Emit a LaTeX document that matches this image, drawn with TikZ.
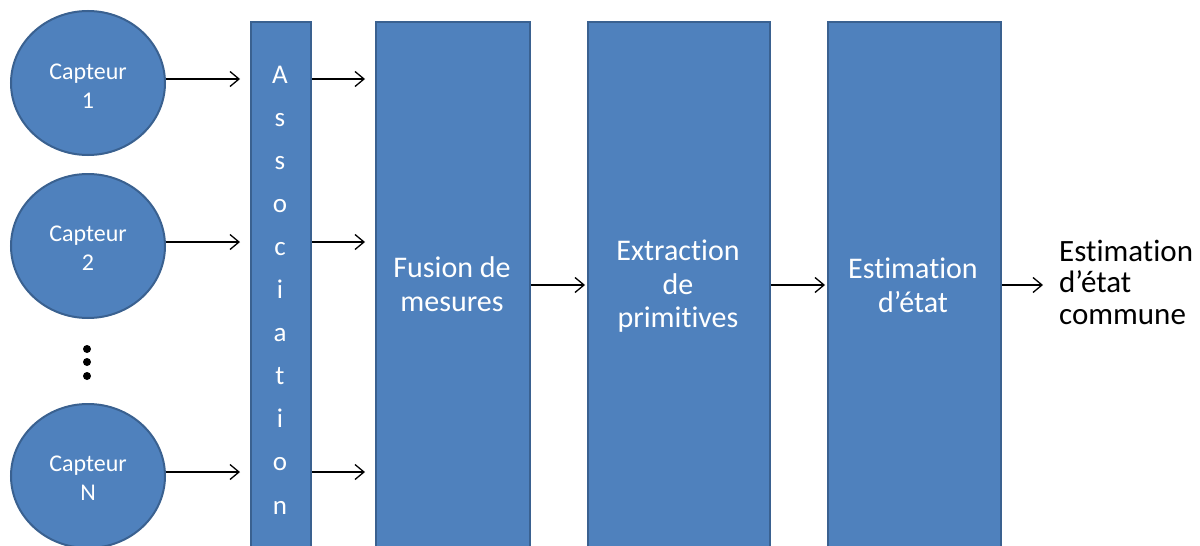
\documentclass[tikz,border=0pt]{standalone}
\usepackage{fontspec}
\setmainfont[Ligatures=NoCommon]{Carlito}
\usetikzlibrary{arrows.meta,shapes.geometric}
\definecolor{boxfill}{HTML}{4F81BD}
\definecolor{boxline}{HTML}{3A6190}
\begin{document}
\begin{tikzpicture}[x=1pt,y=-1pt,
  blk/.style={draw=boxline, line width=2pt, fill=boxfill, rectangle, inner sep=0pt, anchor=north west},
  sensor/.style={draw=boxline, line width=2pt, fill=boxfill, ellipse, minimum width=154pt, minimum height=144pt, inner sep=0pt},
  stxt/.style={text=white, font=\fontsize{24}{29}\selectfont, align=center, inner sep=0pt},
  btxt/.style={text=white, font=\fontsize{30}{33}\selectfont, anchor=base, inner sep=0pt},
  ltxt/.style={text=white, font=\fontsize{27}{30}\selectfont, anchor=base, inner sep=0pt},
  otxt/.style={text=black, font=\fontsize{31}{31}\selectfont, anchor=base west, inner sep=0pt},
  dot/.style={circle, fill=black, inner sep=0pt, minimum size=8pt},
  flow/.style={-{Straight Barb[length=9pt,width=15pt,line width=1.3pt]}, line width=1.3pt}
]
\clip (0,0) rectangle (1200,546);
\useasboundingbox (0,0) rectangle (1200,546);
\fill[white] (0,0) rectangle (1200,546);

% sensors
\node[sensor] (c1) at (88,83) {};
\node[sensor] (c2) at (88,246) {};
\node[sensor] (cN) at (88,476) {};
\node[stxt] (t1) at (88,86) {Capteur\\1};
\node[stxt] (t2) at (88,248) {Capteur\\2};
\node[stxt] (tN) at (88,478) {Capteur\\N};

% dots
\node[dot] (d1) at (87,349) {};
\node[dot] (d2) at (87,362) {};
\node[dot] (d3) at (87,376) {};

% association bar
\node[blk, minimum width=60pt, minimum height=545pt] (assoc) at (250,21) {};
\foreach \l [count=\i from 0] in {A,s,s,o,c,i,a,t,i,o,n}{
  \node[ltxt] (L\i) at (280,{83+43.1*\i}) {\l};
}

% processing blocks
\node[blk, minimum width=154pt, minimum height=545pt] (fus) at (375,21) {};
\node[blk, minimum width=182pt, minimum height=545pt] (ext) at (587,21) {};
\node[blk, minimum width=173pt, minimum height=545pt] (est) at (827,21) {};

\node[btxt] (f1) at (452,277) {Fusion de};
\node[btxt] (f2) at (452,311) {mesures};
\node[btxt] (e1) at (678,260) {Extraction};
\node[btxt] (e2) at (678,294) {de};
\node[btxt] (e3) at (678,327) {primitives};
\node[btxt] (s1) at (913,278) {Estimation};
\node[btxt] (s2) at (913,312) {d’état};

% output text
\node[otxt] (o1) at (1059,261) {Estimation};
\node[otxt] (o2) at (1059,292) {d’état};
\node[otxt] (o3) at (1059,324) {commune};

% rows
\coordinate (r1) at (0,79);
\coordinate (r2) at (0,242);
\coordinate (r3) at (0,472);
\coordinate (rm) at (0,285);

% connectors
\draw[flow, shorten >=10pt] (c1.east |- r1) -- (assoc.west |- r1);
\draw[flow, shorten >=10pt] (c2.east |- r2) -- (assoc.west |- r2);
\draw[flow, shorten >=10pt] (cN.east |- r3) -- (assoc.west |- r3);
\draw[flow, shorten >=10pt] (assoc.east |- r1) -- (fus.west |- r1);
\draw[flow, shorten >=10pt] (assoc.east |- r2) -- (fus.west |- r2);
\draw[flow, shorten >=10pt] (assoc.east |- r3) -- (fus.west |- r3);
\draw[flow, shorten >=2pt] (fus.east |- rm) -- (ext.west |- rm);
\draw[flow, shorten >=2pt] (ext.east |- rm) -- (est.west |- rm);
\draw[flow, shorten >=16pt] (est.east |- rm) -- (o2.west |- rm);
\end{tikzpicture}
\end{document}
